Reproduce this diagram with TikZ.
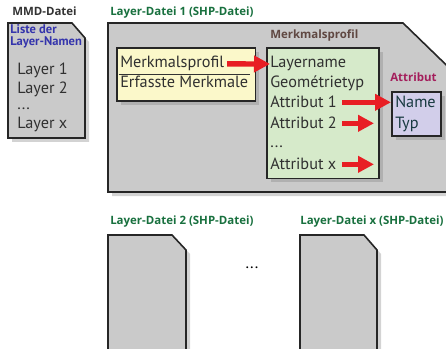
\documentclass[tikz,border=0pt]{standalone}
\usepackage{fontspec}
\setmainfont{PT Sans}
\newfontfamily\titlefont{Open Sans}
\usepackage{xcolor}
\usepackage{tikz}
\usetikzlibrary{arrows.meta, shadows, positioning}
\definecolor{docgray}{RGB}{202,202,202}
\definecolor{paleyellow}{RGB}{251,248,202}
\definecolor{palegreen}{RGB}{214,234,202}
\definecolor{palepurple}{RGB}{210,206,234}
\definecolor{fgreen}{RGB}{24,112,62}
\definecolor{lbrown}{RGB}{96,72,66}
\definecolor{lmagenta}{RGB}{164,30,92}
\definecolor{lblue}{RGB}{52,52,172}
\definecolor{arrred}{RGB}{232,30,36}
\definecolor{txt}{RGB}{48,48,48}
\definecolor{teal}{RGB}{24,58,64}

\begin{document}
\begin{tikzpicture}[
    x=0.75pt, y=-0.75pt,
    font=\fontsize{12.2}{13}\selectfont,
    shade/.style={drop shadow={shadow xshift=3pt, shadow yshift=-3pt, opacity=0.35}},
    doc/.style={draw=black!85, line width=1.2pt, fill=docgray, shade},
    box/.style={rectangle, draw=black!85, line width=1.2pt, anchor=north west,
                inner sep=0pt, shade},
    ybox/.style={box, fill=paleyellow},
    gbox/.style={box, fill=palegreen},
    pbox/.style={box, fill=palepurple},
    line/.style={anchor=base west, inner sep=0pt, text=txt},
    title/.style={anchor=base west, inner sep=0pt, font=\titlefont\fontsize{8.6}{10}\selectfont\bfseries},
    fat/.style={draw=arrred, line width=4pt, -{Triangle[length=12pt, width=12pt]}}
  ]
    \useasboundingbox (0,0) rectangle (446,349);
    \clip (0,0) rectangle (446,349);

    % MMD file
    \node[title, text=black!80] (mmd) at (12,16) {MMD-Datei};
    \draw[doc] (8,23) -- (72,23) -- (85,38) -- (85,138) -- (8,138) -- cycle;
    \node[anchor=north west, inner sep=0pt, align=left, text=lblue,
          font=\fontsize{9.4}{9.5}\selectfont\bfseries] (liste) at (10,24)
          {Liste der\\Layer-Namen};
    \node[line] (l1) at (17,75)  {Layer 1};
    \node[line] (l2) at (17,94)  {Layer 2};
    \node[line] (ld) at (17,110) {...};
    \node[line] (lx) at (17,129) {Layer x};

    % Layer file 1
    \node[title, text=fgreen] (ldat1) at (110,16) {Layer-Datei 1 (SHP-Datei)};
    \draw[doc] (108,23) -- (403,23) -- (470,88) -- (470,192) -- (108,192) -- cycle;

    % Feature profile (yellow)
    \node[ybox, minimum width=104pt, minimum height=40pt] (mpbox) at (116,47) {};
    \draw[line width=0.6pt, black!80] ([xshift=2pt]mpbox.west) -- ([xshift=-5pt]mpbox.east);
    \node[line] (mp) at (120,68) {Merkmalsprofil};
    \node[line] (em) at (120,88) {Erfasste Merkmale};

    % Feature profile (green)
    \node[title, text=lbrown] (mptitle) at (270,39) {Merkmalsprofil};
    \node[gbox, minimum width=84pt, minimum height=98pt] (gpbox) at (266,47) {};
    \node[line] (ln) at (270,68)  {Layername};
    \node[line] (gt) at (270,88)  {Geométrietyp};
    \node[line] (a1) at (270,108) {Attribut 1};
    \node[line] (a2) at (270,129) {Attribut 2};
    \node[line] (ad) at (270,148) {...};
    \node[line] (ax) at (270,170) {Attribut x};

    % Attribute (purple)
    \node[title, text=lmagenta] (attitle) at (390,82) {Attribut};
    \node[pbox, minimum width=37pt, minimum height=33pt] (attr) at (391,91) {};
    \node[line, text=teal] (name) at (395,108) {Name};
    \node[line, text=teal] (typ)  at (395,129) {Typ};

    % red arrows
    \coordinate (tip) at (374,0);
    \draw[fat] ([xshift=2pt]mp.east) -- (ln.west);
    \draw[fat] ([xshift=4pt]a1.east) -- (a1.east -| attr.west);
    \draw[fat] ([xshift=4pt]a2.east |- a2.east) -- (a2.east -| tip);
    \draw[fat] (a2.east |- ax.east) ++(4pt,0) -- (ax.east -| tip);

    % further layer files
    \node[title, text=fgreen] (ldat2) at (110,224) {Layer-Datei 2 (SHP-Datei)};
    \draw[doc] (108,235) -- (172,235) -- (186,250) -- (186,360) -- (108,360) -- cycle;
    \node[inner sep=0pt] (dots) at (252,268) {...};
    \node[title, text=fgreen] (ldatx) at (300,224) {Layer-Datei x (SHP-Datei)};
    \draw[doc] (300,235) -- (364,235) -- (377,250) -- (377,360) -- (300,360) -- cycle;
\end{tikzpicture}
\end{document}
